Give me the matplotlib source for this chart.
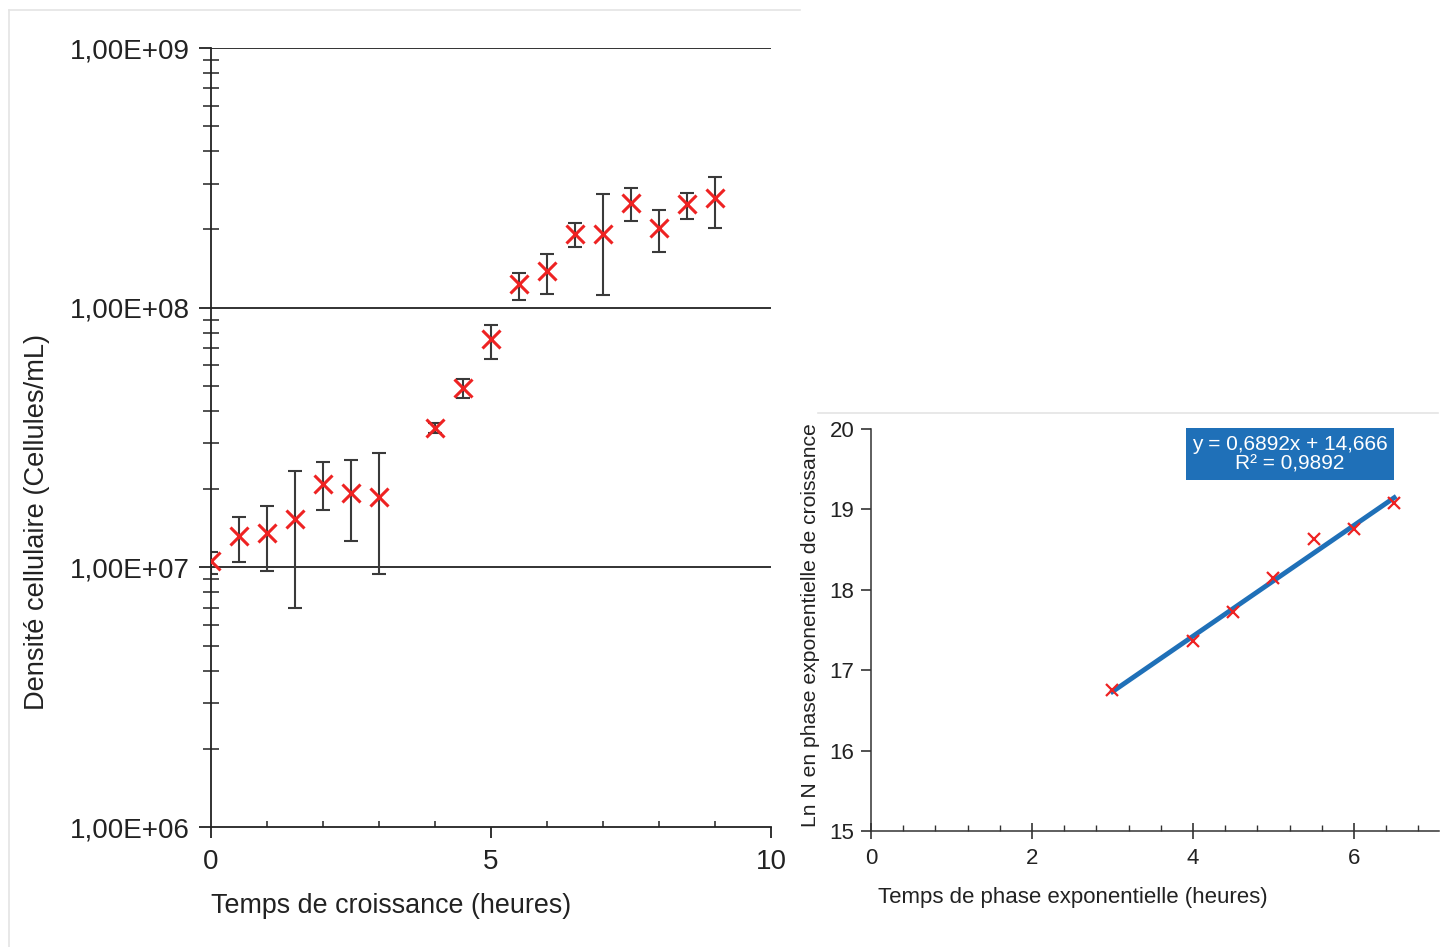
import numpy as np
import matplotlib.pyplot as plt
from matplotlib.ticker import LogLocator, FixedLocator, MultipleLocator, NullFormatter, FuncFormatter
from matplotlib.lines import Line2D

plt.rcParams['font.family'] = ['Liberation Sans', 'DejaVu Sans']

# left chart: cell density over time (mean, lower bound, upper bound)
temps = [0, 0.5, 1, 1.5, 2, 2.5, 3, 4, 4.5, 5, 5.5, 6, 6.5, 7, 7.5, 8, 8.5, 9]
densite = [1.06e7, 1.32e7, 1.36e7, 1.53e7, 2.09e7, 1.94e7, 1.87e7, 3.44e7, 4.91e7,
           7.55e7, 1.23e8, 1.38e8, 1.92e8, 1.93e8, 2.53e8, 2.02e8, 2.50e8, 2.64e8]
bas = [9.4e6, 1.05e7, 9.7e6, 7.0e6, 1.66e7, 1.26e7, 9.4e6, 3.3e7, 4.49e7,
       6.37e7, 1.07e8, 1.13e8, 1.71e8, 1.12e8, 2.16e8, 1.64e8, 2.19e8, 2.03e8]
haut = [1.15e7, 1.56e7, 1.73e7, 2.35e7, 2.54e7, 2.58e7, 2.76e7, 3.6e7, 5.31e7,
        8.55e7, 1.36e8, 1.61e8, 2.11e8, 2.73e8, 2.89e8, 2.37e8, 2.77e8, 3.19e8]

# right chart: ln N during exponential phase
t_expo = [3, 4, 4.5, 5, 5.5, 6, 6.5]
ln_n = [16.75, 17.36, 17.72, 18.15, 18.63, 18.76, 19.08]
pente, origine = 0.6892, 14.666

W, H = 1446, 947
fig = plt.figure(figsize=(14.46, 9.47), dpi=100)

# light frame edges of the two pasted panels
def trait(x0, y0, x1, y1):
    fig.add_artist(Line2D([x0 / W, x1 / W], [1 - y0 / H, 1 - y1 / H],
                          transform=fig.transFigure, color='#e4e4e4', lw=1.2))

trait(9, 10, 800, 10)
trait(9, 10, 9, 947)
trait(818, 413, 1438, 413)

# ---- left chart
ax1 = fig.add_axes([211 / W, 1 - 827 / H, 560 / W, 779 / H])
dens = np.array(densite)
err = [dens - np.array(bas), np.array(haut) - dens]
ax1.errorbar(temps, densite, yerr=err, fmt='none', ecolor='#3a3a3a', elinewidth=1.5,
             capsize=5, capthick=1.5, zorder=2)
ax1.plot(temps, densite, 'x', color='#ee2222', ms=13, mew=2.2, zorder=3)
ax1.set_yscale('log')
ax1.set_ylim(1e6, 1e9)
ax1.set_xlim(0, 10)
ax1.yaxis.set_major_locator(LogLocator(base=10, numticks=10))
ax1.yaxis.set_minor_locator(LogLocator(base=10, subs=np.arange(2, 10), numticks=10))
ax1.yaxis.set_minor_formatter(NullFormatter())
ax1.yaxis.set_major_formatter(FuncFormatter(lambda v, p: '1,00E+%02d' % round(np.log10(v))))
ax1.set_xticks([0, 5, 10])
ax1.xaxis.set_minor_locator(MultipleLocator(1))
for yv in [1e7, 1e8, 1e9]:
    ax1.axhline(yv, color='#222222', lw=1.3, zorder=1)
for s in ['top', 'right']:
    ax1.spines[s].set_visible(False)
for s in ['left', 'bottom']:
    ax1.spines[s].set_color('#222222')
    ax1.spines[s].set_linewidth(1.3)
ax1.tick_params(axis='y', which='major', direction='out', length=9, width=1.3,
                labelsize=20, colors='#222222', pad=6)
ax1.tick_params(axis='y', which='minor', direction='inout', length=12, width=1.1, colors='#222222')
ax1.tick_params(axis='x', which='major', direction='out', length=8, width=1.3,
                labelsize=20, colors='#222222', pad=8)
ax1.tick_params(axis='x', which='minor', direction='in', length=4, width=1.1, colors='#222222')
ax1.patch.set_alpha(0)
fig.text(391 / W, 1 - 906 / H, 'Temps de croissance (heures)', ha='center', va='center',
         fontsize=19.4, color='#222222')
fig.text(37 / W, 1 - 522 / H, 'Densité cellulaire (Cellules/mL)', ha='center', va='center',
         rotation=90, fontsize=19.6, color='#222222')

# ---- right chart
ax2 = fig.add_axes([871 / W, 1 - 831 / H, 567.5 / W, 402 / H])
xs = np.array([t_expo[0], t_expo[-1]])
ax2.plot(xs, pente * xs + origine, color='#1f70b8', lw=3.5, zorder=2)
ax2.plot(t_expo, ln_n, 'x', color='#ee2222', ms=8, mew=1.6, zorder=3)
ax2.set_xlim(0, 7.05)
ax2.set_ylim(15, 20)
ax2.set_xticks([0, 2, 4, 6])
ax2.xaxis.set_minor_locator(FixedLocator(np.arange(0.4, 7.01, 0.4)))
ax2.set_yticks([15, 16, 17, 18, 19, 20])
for s in ['top', 'right']:
    ax2.spines[s].set_visible(False)
for s in ['left', 'bottom']:
    ax2.spines[s].set_color('#333333')
    ax2.spines[s].set_linewidth(1.1)
ax2.tick_params(axis='y', which='major', direction='out', length=7, width=1.1,
                labelsize=16, colors='#222222', pad=5)
ax2.tick_params(axis='x', which='major', direction='inout', length=12, width=1.1,
                labelsize=16, colors='#222222', pad=6)
ax2.tick_params(axis='x', which='minor', direction='in', length=4, width=1.0, colors='#333333')
ax2.text(5.205, 19.69, 'y = 0,6892x + 14,666\nR² = 0,9892', ha='center', va='center',
         fontsize=15, color='white', linespacing=1.05,
         bbox=dict(boxstyle='square,pad=0.3', fc='#1f70b8', ec='none'))
ax2.patch.set_alpha(0)
fig.text(1073 / W, 1 - 897 / H, 'Temps de phase exponentielle (heures)', ha='center',
         va='center', fontsize=16, color='#222222')
fig.text(811 / W, 1 - 625 / H, 'Ln N en phase exponentielle de croissance', ha='center',
         va='center', rotation=90, fontsize=15.2, color='#222222')

fig.savefig('out.png', dpi=100)
